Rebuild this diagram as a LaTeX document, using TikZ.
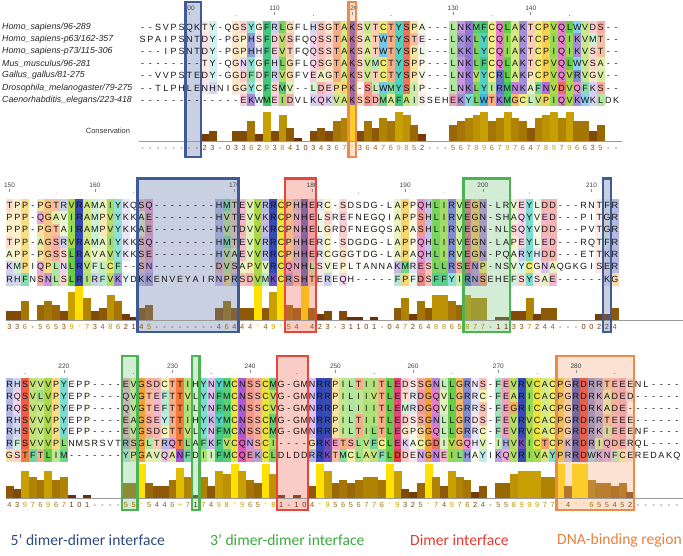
\documentclass[tikz,border=0pt]{standalone}
\usepackage{fontspec}
\setmainfont{Liberation Sans}
\newfontfamily\legendfont{Carlito}
\usepackage{tikz}
% residue colours
\definecolor{resA}{HTML}{C6E25A}
\definecolor{resR}{HTML}{3447B2}
\definecolor{resN}{HTML}{A856D4}
\definecolor{resD}{HTML}{E23A36}
\definecolor{resC}{HTML}{EAE23E}
\definecolor{resQ}{HTML}{DC52B6}
\definecolor{resE}{HTML}{E2457A}
\definecolor{resG}{HTML}{F2A238}
\definecolor{resH}{HTML}{5060C0}
\definecolor{resI}{HTML}{94D84E}
\definecolor{resL}{HTML}{66CC46}
\definecolor{resK}{HTML}{6C48BC}
\definecolor{resM}{HTML}{3EC862}
\definecolor{resF}{HTML}{42C67E}
\definecolor{resP}{HTML}{F6C83C}
\definecolor{resS}{HTML}{EE5C42}
\definecolor{resT}{HTML}{F27C3E}
\definecolor{resW}{HTML}{40B4E4}
\definecolor{resY}{HTML}{4ECFBF}
\definecolor{resV}{HTML}{AAD848}
\definecolor{consLo}{HTML}{6A2E08}
\definecolor{consHi}{HTML}{FFE000}
\definecolor{box5}{HTML}{3E5B95}
\definecolor{box3}{HTML}{4CB352}
\definecolor{boxdim}{HTML}{E8463C}
\definecolor{boxdna}{HTML}{EC8A4A}
\definecolor{tint5}{HTML}{6578AC}
\definecolor{tint3}{HTML}{81C98A}
\definecolor{tintdim}{HTML}{EE705C}
\definecolor{tintdna}{HTML}{F4AC7E}
\definecolor{leg5}{HTML}{2D4A7E}
\definecolor{leg3}{HTML}{3AAA40}
\definecolor{legdim}{HTML}{E53A30}
\definecolor{legdna}{HTML}{E8803E}
\tikzset{
  msa/res/.style={inner sep=0pt, font=\fontsize{9}{10}\selectfont, text=black!92, text height=6.4pt, text depth=0pt},
  msa/name/.style={anchor=west, inner sep=0pt, font=\fontsize{8.8}{10}\selectfont\itshape, text=black!85},
  msa/ruler/.style={inner sep=0pt, font=\fontsize{6.5}{7}\selectfont, text=black!75},
  msa/tick/.style={black!45, line width=0.6pt},
  msa/dot/.style={fill=black!45},
  msa/cons/.style={inner sep=0pt, font=\fontsize{7.4}{8}\selectfont, text height=5.3pt, text depth=0pt},
  msa/base/.style={black!40, line width=0.8pt},
  msa/label/.style={inner sep=0pt, font=\fontsize{7.5}{8}\selectfont, text=black!80},
  msa/box5/.style={draw=box5, line width=2.4pt},
  msa/box3/.style={draw=box3, line width=2.4pt},
  msa/boxdim/.style={draw=boxdim, line width=2.4pt},
  msa/boxdna/.style={draw=boxdna, line width=2.4pt},
  msa/tint5/.style={fill=tint5, fill opacity=0.35},
  msa/tint3/.style={fill=tint3, fill opacity=0.35},
  msa/tintdim/.style={fill=tintdim, fill opacity=0.35},
  msa/tintdna/.style={fill=tintdna, fill opacity=0.35},
  msa/legend/.style={anchor=west, inner sep=0pt, font=\legendfont\fontsize{15.6}{18}\selectfont}
}
\makeatletter
\newcount\ci
\newcount\cellpct
\newcount\barval
\newcount\barpct
\newif\ifmsafill
% conservation values of the current block
\def\readcons#1{\ci=0 \expandafter\readcons@#1\relax}
\def\readcons@#1{\ifx#1\relax\else
  \expandafter\def\csname cv@\the\ci\endcsname{#1}%
  \advance\ci\@ne
  \expandafter\readcons@\fi}
\def\pctof#1{%
  \if*#1\cellpct=100 \else
  \if+#1\cellpct=100 \else
  \if-#1\cellpct=0 \else
    \cellpct=#1\relax \multiply\cellpct by 12 \advance\cellpct by -10
    \ifnum\cellpct<0 \cellpct=0 \fi
    \ifnum\cellpct>100 \cellpct=100 \fi
  \fi\fi\fi}
\def\barof#1{%
  \if*#1\barval=11 \barpct=100 \else
  \if+#1\barval=10 \barpct=80 \else
  \if-#1\barval=0 \barpct=0 \else
    \barval=#1\relax \barpct=\barval \multiply\barpct by 8 \advance\barpct by -8
    \ifnum\barpct<0 \barpct=0 \fi
  \fi\fi\fi}
% one row of residues (fill pass or letter pass)
\def\seqrow#1#2{\def\rowy{#1}\ci=0 \seqrow@#2\relax}
\def\seqrow@#1{\ifx#1\relax\else
  \rescell{#1}\advance\ci\@ne
  \expandafter\seqrow@\fi}
\def\rescell#1{%
  \edef\cx{\the\ci}%
  \ifmsafill
    \if-#1\cellpct=0 \else
      \expandafter\let\expandafter\cv\csname cv@\cx\endcsname
      \pctof\cv
    \fi
    \ifnum\cellpct>0
      \edef\pc{\the\cellpct}%
      \fill[res#1!\pc!white] ({\xo+(\cx-0.5)*\cw},{\yo+(\rowy-0.5)*\rh}) rectangle ++({\cw+0.25},{\rh+0.25});
    \fi
  \else
    \node[msa/res] (s\blk\rowy-\cx) at ({\xo+\cx*\cw},{\yo+\rowy*\rh}) {#1};
  \fi}
% conservation bars and scores
\def\consrow#1{\ci=0 \expandafter\consrow@#1\relax}
\def\consrow@#1{\ifx#1\relax\else
  \conscell{#1}\advance\ci\@ne
  \expandafter\consrow@\fi}
\def\conscell#1{%
  \edef\cx{\the\ci}%
  \barof{#1}%
  \edef\pc{\the\barpct}\edef\bv{\the\barval}%
  \ifmsafill
    \ifnum\barval>0
      \fill[consHi!\pc!consLo] ({\xo+(\cx-0.5)*\cw},\base) rectangle ({\xo+(\cx+0.5)*\cw+0.25},{\base-\bv*\bu});
    \fi
  \else
    \node[msa/cons, text=consHi!\pc!consLo] (c\blk-\cx) at ({\xo+\cx*\cw},\cy) {#1};
  \fi}
% highlighted region: kind, first column, last column, top, bottom
\def\msatint#1#2#3#4#5{\fill[msa/tint#1] ({\xo+(#2-0.5)*\cw},#4) rectangle ({\xo+(#3+0.5)*\cw},#5);}
\def\msabox#1#2#3#4#5{\draw[msa/box#1] ({\xo+(#2-0.5)*\cw},#4) rectangle ({\xo+(#3+0.5)*\cw},#5);}
\def\rulerlabels#1{\foreach \c/\n in {#1}{%
  \node[msa/ruler] (rul\blk-\n) at ({\xo+\c*\cw},\ly) {\n};
  \draw[msa/tick] ([yshift=-1.2pt]rul\blk-\n.south) -- ++(0,3);}}
\def\rulerdots#1{\foreach \c in {#1}{\fill[msa/dot] ({\xo+\c*\cw},{\ly+7.5}) circle (0.55);}}
\makeatother
\def\cw{7.76}
\def\consA{--------23-0336293841034367*364769852---56789679764789796635--}
\def\consB{336-56539*734862145--------46444*49*54*423-31101-0472648865877-11337244---00224}
\def\consC{43976967101----55*5446+717498*965*81-104*95656776*9325*7497624-55899977*4**655452------}
\def\rowsA{%
  \seqrow{0}{--SVPSQKTY-QGSYGFRLGFLHSGTAKSVTCTYSPA---LNKMFCQLAKTCPVQLWVDS--}%
  \seqrow{1}{SPAIPSNTDY-PGPHSFDVSFQQSSTAKSATWTYSTE---LKKLYCQIAKTCPIQIKVMT--}%
  \seqrow{2}{---IPSNTDY-PGPHHFEVTFQQSSTAKSATWTYSPL---LKKLYCQIAKTCPIQIKVST--}%
  \seqrow{3}{--------TY-QGNYGFHLGFLQSGTAKSVMCTYSPP---LNKLFCQLAKTCPVQLWVSA--}%
  \seqrow{4}{--VVPSTEDY-GGDFDFRVGFVEAGTAKSVTCTYSPV---LNKVYCRLAKPCPVQVRVGV--}%
  \seqrow{5}{--TLPHLENHNIGGYCFSMV--LDEPPK-SLWMYSIP---LNKLYIRMNKAFNVDVQFKS--}%
  \seqrow{6}{-------------EKWMEIDVLKQKVAKSSDMAFAISSEHEKYLWTKMGCLVPIQVKWKLDK}}
\def\rowsB{%
  \seqrow{0}{TPP-PGTRVRAMAIYKQSQ--------HMTEVVRRCPHHERC-SDSDG-LAPPQHLIRVEGN-LRVEYLDD---RNTFR}%
  \seqrow{1}{PPP-QGAVIRAMPVYKKAE--------HVTEVVKRCPNHELSREFNEGQIAPPSHLIRVEGN-SHAQYVED---PITGR}%
  \seqrow{2}{PPP-PGTAIRAMPVYKKAE--------HVTDVVKRCPNHELGRDFNEGQSAPASHLIRVEGN-NLSQYVDD---PVTGR}%
  \seqrow{3}{TPP-AGSRVRAMAIYKKSQ--------HMTEVVRRCPHHERC-SDGDG-LAPPQHLIRVEGN-LAPEYLED---RQTFR}%
  \seqrow{4}{APP-PGSSLRAVAVYKKSE--------HVAEVVRRCPHHERCGGGTDG-LAPAQHLIRVEGN-PQARYHDD---ETTKR}%
  \seqrow{5}{KMPIQPLNLRVFLCF--SN--------DVSAPVVRCQNHLSVEPLTANNAKMRESLLRSENP-NSVYCGNAQGKGISER}%
  \seqrow{6}{RHFNSNLSLRIRFVKYDKKENVEYAIRNPRSDVMKCRSHTEREQH-----FPFDSFFYIRNSEHEFSYSAE------KG}}
\def\rowsC{%
  \seqrow{0}{RHSVVVPYEPP----EVGSDCTTIHYNYMCNSSCMG-GMNRRPILTIITLEDSSGNLLGRNS-FEVRVCACPGRDRRTEEENL----}%
  \seqrow{1}{RQSVLVPYEPP----QVGTEFTTVLYNFMCNSSCVG-GMNRRPILIIVTLETRDGQVLGRRC-FEARICACPGRDRKADED------}%
  \seqrow{2}{RQSVVVPYEPP----QVGTEFTTILYNFMCNSSCVG-GMNRRPILIIITLEMRDGQVLGRRS-FEGRICACPGRDRKADE-------}%
  \seqrow{3}{RHSVVVPYEPP----EAGSEYTTIHYKYMCNSSCMG-GMNRRPILTIITLEDSSGNLLGRDS-FEVRVCACPGRDRRTEEE------}%
  \seqrow{4}{RHSVVVPYEPP----EVGSDCTTVLYNFMCNSSCMG-GMNRRPILTILTLEGPGGQLLGRRC-FEVRVCACPGRDRKIEEENF----}%
  \seqrow{5}{RFSVVVPLNMSRSVTRSGLTRQTLAFKFVCQNSCI----GRKETSLVFCLEKACGDIVGQHV-IHVKICTCPKRDRIQDERQL----}%
  \seqrow{6}{GSTFTLIM-------YPGAVQANFDIIFMCQEKCLDLDDRRKTMCLAVFLDDENGNEILHAYIKQVRIVAYPRRDWKNFCEREDAKQ}}

\begin{document}
\begin{tikzpicture}[x=1pt, y=-1pt]
  \useasboundingbox (0,0) rectangle (683,556);

  % block 1
  \def\blk{A}\def\xo{142.7}\def\yo{27}\def\rh{12.17}\def\base{141}\def\bu{3.25}\def\cy{147.5}\def\ly{8}
  \readcons{\consA}
  \msafilltrue \rowsA \consrow{\consA}
  \msatint{5}{6}{7}{2}{157}
  \msatint{dna}{27}{27}{2}{157}
  \msafillfalse \rowsA \consrow{\consA}
  \foreach \nm [count=\r from 0] in {Homo\_sapiens/96-289, Homo\_sapiens-p63/162-357,
      Homo\_sapiens-p73/115-306, Mus\_musculus/96-281, Gallus\_gallus/81-275,
      Drosophila\_melanogaster/79-275, Caenorhabditis\_elegans/223-418}
    \node[msa/name] (name\r) at (2,{\yo+\r*\rh}) {\nm};
  \node[msa/label] (conslbl) at (108,130.5) {Conservation};
  \draw[msa/base] (139,\base) -- (622,\base);
  \rulerlabels{6/100, 17/110, 27/120, 40/130, 50/140}
  \rulerdots{12, 22, 32, 45, 55}
  \msabox{5}{6}{7}{2}{157}
  \msabox{dna}{27}{27}{2}{157}

  % block 2
  \def\blk{B}\def\xo{9.5}\def\yo{205}\def\rh{12.35}\def\base{320}\def\bu{3.1}\def\cy{326.5}\def\ly{185.5}
  \readcons{\consB}
  \msafilltrue \rowsB \consrow{\consB}
  \msatint{5}{17}{29}{178.5}{332}
  \msatint{dim}{36}{39}{178.5}{332}
  \msatint{3}{59}{64}{178.5}{332}
  \msatint{5}{77}{77}{178.5}{332}
  \msafillfalse \rowsB \consrow{\consB}
  \draw[msa/base] (5.5,\base) -- (683,\base);
  \rulerlabels{0/150, 11/160, 29/170, 39/180, 51/190, 61/200, 75/210}
  \rulerdots{6, 16, 34, 45, 56, 67}
  \msabox{5}{17}{29}{178.5}{332}
  \msabox{dim}{36}{39}{178.5}{332}
  \msabox{3}{59}{64}{178.5}{332}
  \msabox{5}{77}{77}{178.5}{332}

  % block 3
  \def\blk{C}\def\xo{9.5}\def\yo{384.3}\def\rh{11.85}\def\base{498.5}\def\bu{3.1}\def\cy{505}\def\ly{366}
  \readcons{\consC}
  \msafilltrue \rowsC \consrow{\consC}
  \msatint{3}{15}{16}{356}{510}
  \msatint{3}{24}{24}{356}{510}
  \msatint{dim}{35}{38}{356}{510}
  \msatint{dna}{71}{80}{356}{510}
  \msafillfalse \rowsC \consrow{\consC}
  \draw[msa/base] (5.5,\base) -- (683,\base);
  \rulerlabels{7/220, 21/230, 31/240, 42/250, 52/260, 63/270, 73/280}
  \rulerdots{2, 16, 26, 37, 47, 57, 68, 78}
  \msabox{3}{15}{16}{356}{510}
  \msabox{3}{24}{24}{356}{510}
  \msabox{dim}{35}{38}{356}{510}
  \msabox{dna}{71}{80}{356}{510}

  % legend
  \node[msa/legend, text=leg5] (leg5) at (10.5,540) {5’ dimer-dimer interface};
  \node[msa/legend, text=leg3] (leg3) at (210,540) {3’ dimer-dimer interface};
  \node[msa/legend, text=legdim] (legdim) at (410,540) {Dimer interface};
  \node[msa/legend, text=legdna] (legdna) at (557,540) {DNA-binding region};
\end{tikzpicture}
\end{document}
